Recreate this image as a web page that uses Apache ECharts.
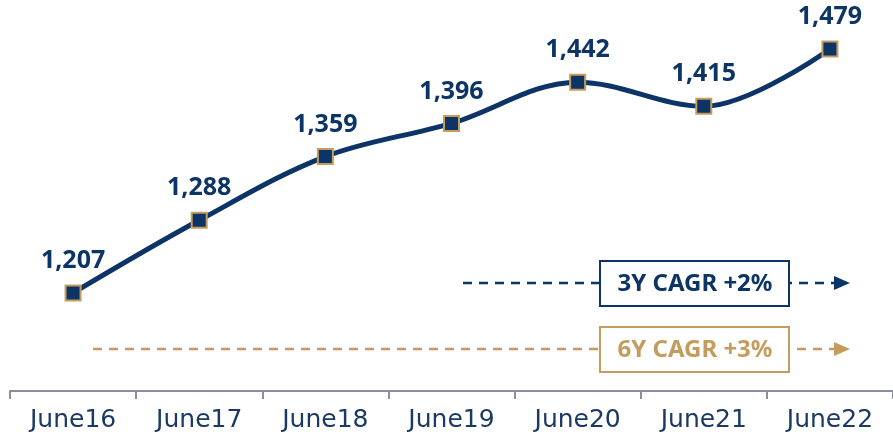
<!DOCTYPE html>
<html>
<head>
<meta charset="utf-8">
<script src="https://cdn.jsdelivr.net/npm/echarts@6/dist/echarts.min.js"></script>
<style>
  html, body { margin: 0; padding: 0; background: #fff; }
  #chart { width: 893px; height: 435px; }
</style>
</head>
<body>
<div id="chart"></div>
<script>
// data
const categories = ['June16', 'June17', 'June18', 'June19', 'June20', 'June21', 'June22'];
const values = [1207, 1288, 1359, 1396, 1442, 1415, 1479];
const cagrLabels = ['3Y CAGR +2%', '6Y CAGR +3%'];

const NAVY = '#0d3466';
const GOLD = '#c49d5e';

// dashed arrow with a boxed label
function arrow(y, x0, color, label) {
    return {
        type: 'group',
        children: [
            {
                type: 'line',
                shape: { x1: x0, y1: y, x2: 836, y2: y },
                style: { stroke: color, lineWidth: 2.5, lineDash: [9, 7] }
            },
            {
                type: 'polygon',
                shape: { points: [[834, y - 7], [850, y], [834, y + 7]] },
                style: { fill: color }
            },
            {
                type: 'rect',
                shape: { x: 600, y: y - 22, width: 189, height: 45 },
                style: { fill: '#fff', stroke: color, lineWidth: 2 }
            },
            {
                type: 'text',
                x: 695, y: y + 1,
                style: {
                    text: label,
                    fill: color,
                    font: 'bold 24px "Noto Sans"',
                    align: 'center',
                    verticalAlign: 'middle'
                }
            }
        ]
    };
}

const chart = echarts.init(document.getElementById('chart'));
chart.setOption({
    animation: false,
    grid: { left: 10, right: -2, top: 10, bottom: 44 },
    xAxis: {
        type: 'category',
        data: categories,
        boundaryGap: true,
        axisLine: { lineStyle: { color: '#8b8e9c', width: 2 } },
        axisTick: { show: true, length: 8, lineStyle: { color: '#8b8e9c', width: 2 } },
        axisLabel: {
            color: '#1b3a63',
            fontFamily: 'DejaVu Sans',
            fontSize: 25,
            margin: 17
        }
    },
    yAxis: {
        type: 'value',
        min: 1097.7,
        max: 1522.4,
        show: false
    },
    series: [{
        type: 'line',
        data: values,
        smooth: 0.35,
        symbol: 'rect',
        symbolSize: 15,
        lineStyle: { color: NAVY, width: 5 },
        itemStyle: { color: NAVY, borderColor: GOLD, borderWidth: 2 },
        label: {
            show: true,
            position: 'top',
            distance: 11,
            color: NAVY,
            fontFamily: 'Noto Sans',
            fontWeight: 'bold',
            fontSize: 25,
            formatter: p => p.value.toLocaleString('en-US')
        },
        z: 3
    }],
    graphic: [
        arrow(283, 463, NAVY, cagrLabels[0]),
        arrow(349, 93, GOLD, cagrLabels[1])
    ]
});
</script>
</body>
</html>
